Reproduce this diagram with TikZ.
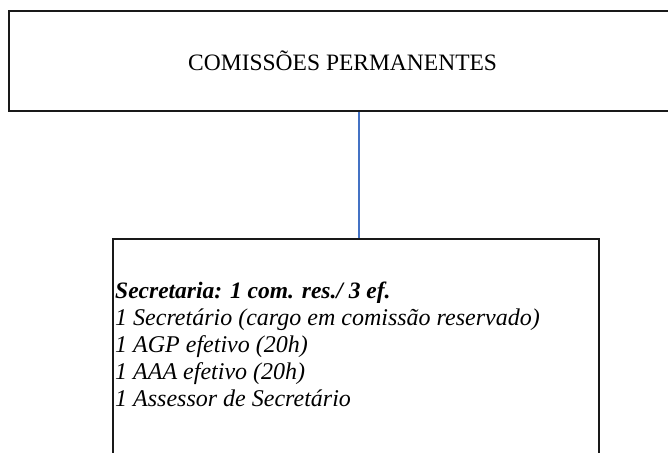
\documentclass[tikz,border=0pt]{standalone}
\usepackage{fontspec}
\setmainfont{Liberation Serif}
\begin{document}
\begin{tikzpicture}[x=1pt,y=-1pt,
  box/.style={draw=black!90, line width=1.8pt, rectangle, inner sep=0pt},
  conn/.style={draw={rgb,255:red,68;green,114;blue,196}, line width=1.8pt},
  txt/.style={inner sep=0pt, font=\fontsize{23.5}{27}\selectfont},
  line/.style={txt, anchor=base west, font=\fontsize{24}{27}\selectfont\itshape}]
\useasboundingbox (0,0) rectangle (668,452);
\clip (0,0) rectangle (668,452);
\node[box, minimum width=666.7pt, minimum height=99.7pt] (top) at (342.65,61.2) {};
\node[txt, anchor=base] (ttl) at (342.65,70.7) {COMISSÕES PERMANENTES};
\node[box, minimum width=485.4pt, minimum height=260pt] (bot) at (356,369.3) {};
\coordinate (cx) at (359,0);
\draw[conn] (top.south -| cx) -- (bot.north -| cx);
\node[line, font=\fontsize{23.5}{27}\selectfont\bfseries\itshape] (l1) at (115,298) {Secretaria: 1 com. res./ 3 ef.};
\node[line] (l2) at (115,325) {1 Secretário (cargo em comissão reservado)};
\node[line] (l3) at (115,352) {1 AGP efetivo (20h)};
\node[line] (l4) at (115,379) {1 AAA efetivo (20h)};
\node[line] (l5) at (115,406) {1 Assessor de Secretário};
\end{tikzpicture}
\end{document}
